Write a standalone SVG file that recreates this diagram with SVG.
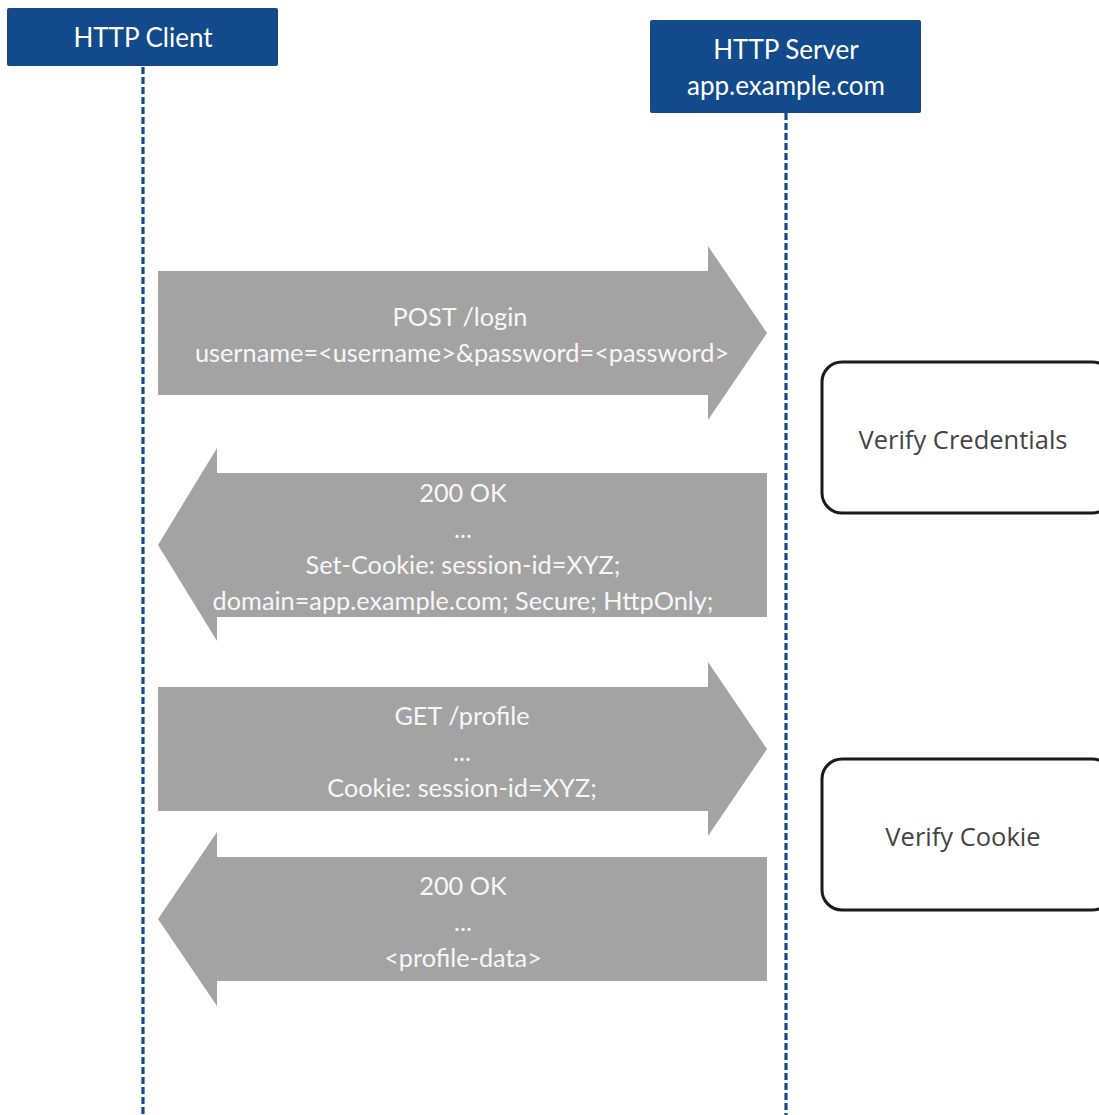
<svg xmlns="http://www.w3.org/2000/svg" width="1099" height="1115" viewBox="0 0 1099 1115">
  <style>
    .actor { fill: #124a8c; }
    .actor-label { font-family: Lato, "Liberation Sans", sans-serif; font-size: 26px; fill: #ffffff; text-anchor: middle; }
    .lifeline { stroke: #124a8c; stroke-width: 3.2; stroke-dasharray: 7 3; fill: none; }
    .msg { fill: #a3a3a3; }
    .msg-label { font-family: Lato, "Liberation Sans", sans-serif; font-size: 25.3px; fill: #f7f7f7; text-anchor: middle; }
    .step { fill: #ffffff; stroke: #1a1a1a; stroke-width: 3; }
    .step-label { font-family: "Open Sans", "Liberation Sans", sans-serif; font-size: 25.5px; fill: #444444; text-anchor: middle; }
  </style>
  <rect width="1099" height="1115" fill="#ffffff"/>

  <!-- lifelines -->
  <g id="lifelines">
    <line class="lifeline" x1="143" y1="67" x2="143" y2="1115"/>
    <line class="lifeline" x1="786" y1="113" x2="786" y2="1115"/>
  </g>

  <!-- participants -->
  <g id="client">
    <rect class="actor" x="7" y="8" width="271" height="58" rx="2"/>
    <text class="actor-label" x="143" y="47">HTTP Client</text>
  </g>
  <g id="server">
    <rect class="actor" x="650" y="20" width="271" height="93" rx="2"/>
    <text class="actor-label" x="786" y="59">HTTP Server</text>
    <text class="actor-label" x="786" y="95">app.example.com</text>
  </g>

  <!-- messages -->
  <g id="connectors">
    <g id="msg-login">
      <polygon class="msg" points="158,271 708,271 708,246 767,333 708,420 708,395 158,395"/>
      <text class="msg-label" x="460" y="326">POST /login</text>
      <text class="msg-label" x="462" y="362">username=&lt;username&gt;&amp;password=&lt;password&gt;</text>
    </g>
    <g id="msg-login-ok">
      <polygon class="msg" points="767,473 217,473 217,448 158,545 217,641 217,617 767,617"/>
      <text class="msg-label" x="463" y="502">200 OK</text>
      <text class="msg-label" x="463" y="538">...</text>
      <text class="msg-label" x="463" y="574">Set-Cookie: session-id=XYZ;</text>
      <text class="msg-label" x="463" y="610">domain=app.example.com; Secure; HttpOnly;</text>
    </g>
    <g id="msg-profile">
      <polygon class="msg" points="158,687 708,687 708,662 767,749 708,836 708,811 158,811"/>
      <text class="msg-label" x="462" y="725">GET /profile</text>
      <text class="msg-label" x="462" y="761">...</text>
      <text class="msg-label" x="462" y="797">Cookie: session-id=XYZ;</text>
    </g>
    <g id="msg-profile-ok">
      <polygon class="msg" points="767,857 217,857 217,832 158,919 217,1006 217,981 767,981"/>
      <text class="msg-label" x="463" y="895">200 OK</text>
      <text class="msg-label" x="463" y="931">...</text>
      <text class="msg-label" x="463" y="967">&lt;profile-data&gt;</text>
    </g>
  </g>

  <!-- server-side steps -->
  <g id="verify-credentials">
    <rect class="step" x="822" y="362" width="290" height="151" rx="20"/>
    <text class="step-label" x="963" y="449">Verify Credentials</text>
  </g>
  <g id="verify-cookie">
    <rect class="step" x="822" y="759" width="290" height="151" rx="20"/>
    <text class="step-label" x="963" y="846">Verify Cookie</text>
  </g>
</svg>
